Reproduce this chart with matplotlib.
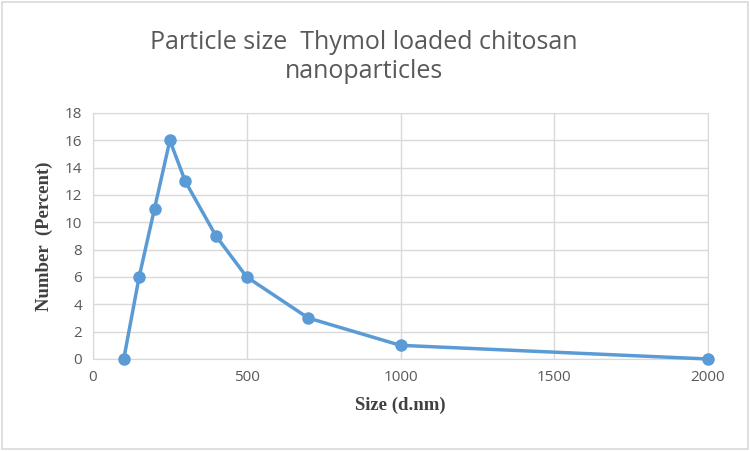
import matplotlib
matplotlib.use("Agg")
import matplotlib.pyplot as plt
from matplotlib.patches import Rectangle

size_nm = [100, 150, 200, 250, 300, 400, 500, 700, 1000, 2000]
number_pct = [0, 6, 11, 16, 13, 9, 6, 3, 1, 0]
x_ticks = [0, 500, 1000, 1500, 2000]
y_ticks = list(range(0, 19, 2))

fig = plt.figure(figsize=(7.5, 4.51), dpi=100)
fig.patches.append(Rectangle((0.003, 0.004), 0.994, 0.992, transform=fig.transFigure,
                             fill=False, edgecolor="#d9d9d9", linewidth=1.2))
ax = fig.add_axes([93/750, (451-359)/451, (708-93)/750, (359-113)/451])

ax.plot(size_nm, number_pct, color="#5B9BD5", linewidth=2.5, marker="o",
        markersize=8, zorder=3, clip_on=False)

ax.set_xlim(0, 2000)
ax.set_ylim(0, 18)
ax.set_xticks(x_ticks)
ax.set_yticks(y_ticks)
ax.grid(True, color="#d9d9d9", linewidth=1)
ax.set_axisbelow(True)
for s in ax.spines.values():
    s.set_color("#d9d9d9")
ax.tick_params(length=0, labelsize=11, colors="#595959", pad=8)
for lab in ax.get_xticklabels() + ax.get_yticklabels():
    lab.set_family("Open Sans")

ax.set_xlabel("Size (d.nm)", family="Liberation Serif", fontweight="bold",
              fontsize=13.5, color="#404040", labelpad=8)
ax.set_ylabel("Number  (Percent)", family="Liberation Serif", fontweight="bold",
              fontsize=13.5, color="#404040", labelpad=8)

fig.text(0.485, 0.873, "Particle size  Thymol loaded chitosan\nnanoparticles",
         ha="center", va="center", fontsize=18, color="#595959",
         family="Open Sans", linespacing=1.2)

fig.savefig("out.png", dpi=100)
